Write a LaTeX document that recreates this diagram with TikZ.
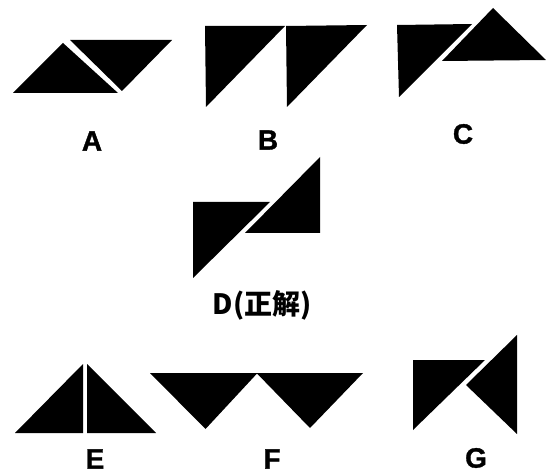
\documentclass[tikz,border=0pt]{standalone}
\usepackage{fontspec}
\setmainfont{Liberation Sans}[BoldFeatures={FakeBold=1.2}]
\newfontfamily\cjkfont{Noto Sans CJK SC}
\begin{document}
\begin{tikzpicture}[x=1pt,y=-1pt,
  piece/.style={fill=black},
  lbl/.style={font=\fontsize{28}{30}\selectfont\bfseries, inner sep=0pt}]
\useasboundingbox (0,0) rectangle (552,473);
% A
\fill[piece] (13,93) -- (63,43) -- (118,93) -- cycle;
\fill[piece] (70,40) -- (172,40) -- (122,91) -- cycle;
\node[lbl] (la) at (92,141) {A};
% B
\fill[piece] (205,26) -- (285,26) -- (206,107) -- cycle;
\fill[piece] (286,26) -- (367,25) -- (287,107) -- cycle;
\node[lbl] (lb) at (268,140) {B};
% C
\fill[piece] (397,25) -- (472,24) -- (399,97) -- cycle;
\fill[piece] (442,61) -- (493,8) -- (546,60) -- cycle;
\node[lbl] (lc) at (463,134) {C};
% D
\fill[piece] (193,202) -- (270,202) -- (193,278) -- cycle;
\fill[piece] (245,233) -- (320,157) -- (320,233) -- cycle;
\node[lbl, font=\fontsize{28}{30}\selectfont\cjkfont\bfseries] (ld) at (262,305) {D(正解)};
% E
\fill[piece] (15,433) -- (83,364) -- (83,433) -- cycle;
\fill[piece] (87,364) -- (87,433) -- (156,433) -- cycle;
\node[lbl] (le) at (95,459) {E};
% F
\fill[piece] (150,373) -- (257.5,373) -- (205.5,429) -- cycle;
\fill[piece] (256.5,373) -- (363,373) -- (310,428) -- cycle;
\node[lbl] (lf) at (272,459) {F};
% G
\fill[piece] (413,360) -- (485,360) -- (413,430) -- cycle;
\fill[piece] (517,335) -- (517,434) -- (466,385) -- cycle;
\node[lbl] (lg) at (476,458) {G};
\end{tikzpicture}
\end{document}
